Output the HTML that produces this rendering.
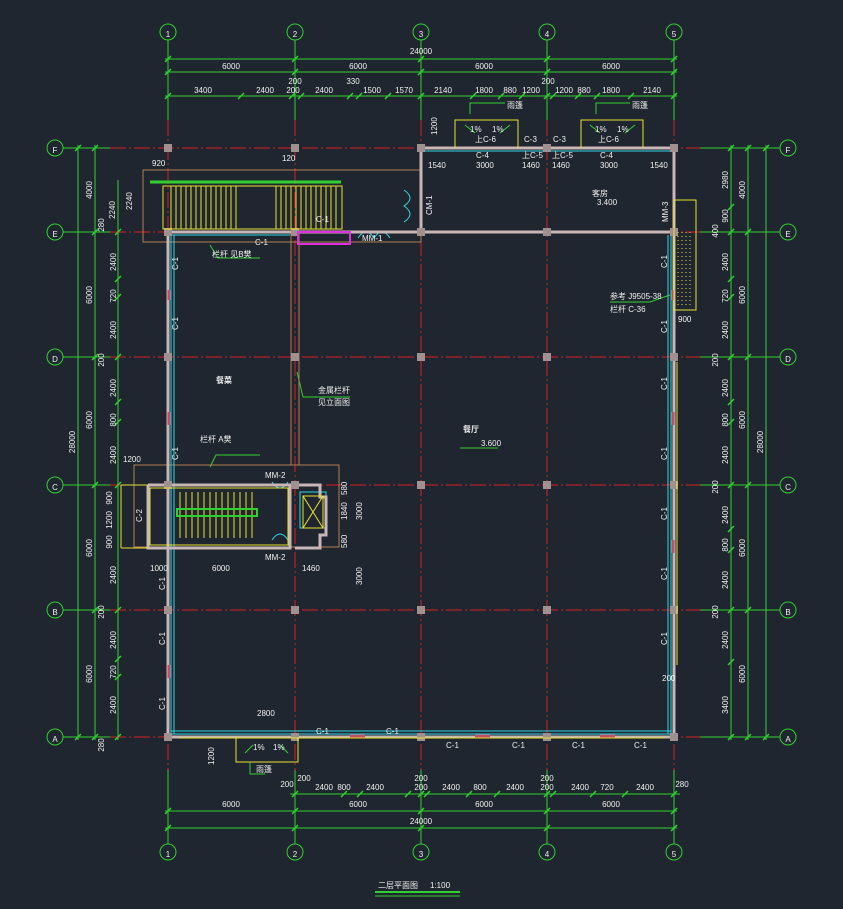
<!DOCTYPE html>
<html><head><meta charset="utf-8"><style>
html,body{margin:0;padding:0;background:#20262f;}
svg{display:block}
text{font-family:"Liberation Sans","Noto Sans CJK SC",sans-serif;fill:#f0f0f0;font-size:8px}
.g{stroke:#2fd02f;stroke-width:1;fill:none}
.r{stroke:#d42020;stroke-width:1;stroke-dasharray:16 3 2 3;fill:none}
.w{stroke:#c9b7b7;stroke-width:3;fill:none}
.c{stroke:#2fd8e8;stroke-width:1;fill:none}
.y{stroke:#e8e030;stroke-width:1;fill:none}
.o{stroke:#b08050;stroke-width:1;fill:none}
.gc{stroke:#2fd02f;fill:none;stroke-width:1}
.ct{font-family:"Liberation Serif",serif;font-size:14px;fill:#f4f4f4;text-anchor:middle}
.m{text-anchor:middle}
</style></head><body>
<svg width="843" height="909" viewBox="0 0 843 909" xmlns="http://www.w3.org/2000/svg">
<rect width="843" height="909" fill="#20262f"/>
<g class="r">
<line x1="168" y1="120" x2="168" y2="770"/><line x1="295" y1="120" x2="295" y2="770"/>
<line x1="421" y1="120" x2="421" y2="770"/><line x1="547" y1="120" x2="547" y2="770"/>
<line x1="674" y1="120" x2="674" y2="770"/>
<line x1="110" y1="148" x2="700" y2="148"/><line x1="110" y1="232" x2="700" y2="232"/>
<line x1="110" y1="357" x2="700" y2="357"/><line x1="110" y1="485" x2="700" y2="485"/>
<line x1="110" y1="610" x2="700" y2="610"/><line x1="110" y1="737" x2="700" y2="737"/>
</g>
<g class="g">
<line x1="168" y1="40" x2="168" y2="120"/><line x1="295" y1="40" x2="295" y2="120"/><line x1="421" y1="40" x2="421" y2="120"/><line x1="547" y1="40" x2="547" y2="120"/><line x1="674" y1="40" x2="674" y2="120"/>
<line x1="168" y1="770" x2="168" y2="844"/><line x1="295" y1="770" x2="295" y2="844"/><line x1="421" y1="770" x2="421" y2="844"/><line x1="547" y1="770" x2="547" y2="844"/><line x1="674" y1="770" x2="674" y2="844"/>
<line x1="63" y1="148" x2="110" y2="148"/><line x1="63" y1="232" x2="110" y2="232"/><line x1="63" y1="357" x2="110" y2="357"/><line x1="63" y1="485" x2="110" y2="485"/><line x1="63" y1="610" x2="110" y2="610"/><line x1="63" y1="737" x2="110" y2="737"/>
<line x1="700" y1="148" x2="780" y2="148"/><line x1="700" y1="232" x2="780" y2="232"/><line x1="700" y1="357" x2="780" y2="357"/><line x1="700" y1="485" x2="780" y2="485"/><line x1="700" y1="610" x2="780" y2="610"/><line x1="700" y1="737" x2="780" y2="737"/>
<line x1="165" y1="59" x2="677" y2="59"/><line x1="165" y1="72" x2="677" y2="72"/><line x1="165" y1="96" x2="677" y2="96"/>
<line x1="290" y1="794" x2="680" y2="794"/><line x1="165" y1="811" x2="677" y2="811"/><line x1="165" y1="828" x2="677" y2="828"/>
<line x1="78" y1="145" x2="78" y2="740"/><line x1="95" y1="145" x2="95" y2="740"/><line x1="118" y1="180" x2="118" y2="740"/>
<line x1="731" y1="145" x2="731" y2="740"/><line x1="748" y1="145" x2="748" y2="740"/><line x1="766" y1="145" x2="766" y2="740"/>
<!-- ticks -->
<path stroke-width="1.5" d="M165 62l6-6M292 62l6-6M418 62l6-6M544 62l6-6M671 62l6-6
M165 75l6-6M292 75l6-6M418 75l6-6M544 75l6-6M671 75l6-6
M165 99l6-6M238 99l6-6M289 99l6-6M298 99l6-6M347 99l6-6M356 99l6-6M385 99l6-6M418 99l6-6M470 99l6-6M498 99l6-6M519 99l6-6M544 99l6-6M550 99l6-6M575 99l6-6M594 99l6-6M628 99l6-6M671 99l6-6
M292 797l6-6M341 797l6-6M357 797l6-6M405 797l6-6M418 797l6-6M424 797l6-6M466 797l6-6M494 797l6-6M544 797l6-6M550 797l6-6M590 797l6-6M622 797l6-6M671 797l6-6
M165 814l6-6M292 814l6-6M418 814l6-6M544 814l6-6M671 814l6-6
M165 831l6-6M292 831l6-6M418 831l6-6M544 831l6-6M671 831l6-6
M75 151l6-6M75 740l6-6M92 151l6-6M92 235l6-6M92 360l6-6M92 488l6-6M92 613l6-6M92 740l6-6
M115 235l6-6M115 282l6-6M115 300l6-6M115 360l6-6M115 405l6-6M115 425l6-6M115 488l6-6M115 613l6-6M115 662l6-6M115 680l6-6M115 740l6-6
M728 151l6-6M728 210l6-6M728 235l6-6M728 282l6-6M728 300l6-6M728 360l6-6M728 405l6-6M728 425l6-6M728 488l6-6M728 532l6-6M728 553l6-6M728 613l6-6M728 665l6-6M728 740l6-6
M745 151l6-6M745 235l6-6M745 360l6-6M745 488l6-6M745 613l6-6M745 740l6-6M763 151l6-6M763 740l6-6"/>
<!-- leaders -->
<polyline points="210,245 218,258 260,258"/><polyline points="210,467 216,455 260,455"/>
<polyline points="297,372 303,397 350,397"/><polyline points="670,295 650,302 610,302"/>
<polyline points="470,114 470,103 505,103"/><polyline points="596,114 596,103 630,103"/><polyline points="250,762 250,774 265,774"/>
<path d="M465 125l10 8M510 125l-10 8M590 125l10 8M635 125l-10 8M245 753l8-8M288 753l-8-8"/>
</g>
<g class="gc">
<circle cx="168" cy="32" r="8"/><circle cx="295" cy="32" r="8"/><circle cx="421" cy="32" r="8"/><circle cx="547" cy="32" r="8"/><circle cx="674" cy="32" r="8"/>
<circle cx="168" cy="852" r="8"/><circle cx="295" cy="852" r="8"/><circle cx="421" cy="852" r="8"/><circle cx="547" cy="852" r="8"/><circle cx="674" cy="852" r="8"/>
<circle cx="55" cy="148" r="8"/><circle cx="55" cy="232" r="8"/><circle cx="55" cy="357" r="8"/><circle cx="55" cy="485" r="8"/><circle cx="55" cy="610" r="8"/><circle cx="55" cy="737" r="8"/>
<circle cx="788" cy="148" r="8"/><circle cx="788" cy="232" r="8"/><circle cx="788" cy="357" r="8"/><circle cx="788" cy="485" r="8"/><circle cx="788" cy="610" r="8"/><circle cx="788" cy="737" r="8"/>
</g>
<g class="ct">
<text x="168" y="37">1</text><text x="295" y="37">2</text><text x="421" y="37">3</text><text x="547" y="37">4</text><text x="674" y="37">5</text>
<text x="168" y="857">1</text><text x="295" y="857">2</text><text x="421" y="857">3</text><text x="547" y="857">4</text><text x="674" y="857">5</text>
<text x="55" y="153" font-size="12">F</text><text x="55" y="237" font-size="12">E</text><text x="55" y="362" font-size="12">D</text><text x="55" y="490" font-size="12">C</text><text x="55" y="615" font-size="12">B</text><text x="55" y="742" font-size="12">A</text>
<text x="788" y="153" font-size="12">F</text><text x="788" y="237" font-size="12">E</text><text x="788" y="362" font-size="12">D</text><text x="788" y="490" font-size="12">C</text><text x="788" y="615" font-size="12">B</text><text x="788" y="742" font-size="12">A</text>
</g>
<g class="m">
<text x="421" y="54">24000</text>
<text x="231" y="69">6000</text><text x="358" y="69">6000</text><text x="484" y="69">6000</text><text x="611" y="69">6000</text>
<text x="203" y="93">3400</text><text x="265" y="93">2400</text><text x="295" y="84">200</text><text x="293" y="93">200</text><text x="324" y="93">2400</text><text x="353" y="84">330</text><text x="372" y="93">1500</text><text x="404" y="93">1570</text>
<text x="443" y="93">2140</text><text x="484" y="93">1800</text><text x="510" y="93">880</text><text x="531" y="93">1200</text><text x="548" y="84">200</text><text x="564" y="93">1200</text><text x="584" y="93">880</text><text x="611" y="93">1800</text><text x="652" y="93">2140</text>
<text x="287" y="787">200</text><text x="304" y="781">200</text><text x="324" y="790">2400</text><text x="344" y="790">800</text><text x="375" y="790">2400</text><text x="421" y="781">200</text><text x="421" y="790">200</text><text x="451" y="790">2400</text><text x="480" y="790">800</text><text x="515" y="790">2400</text><text x="547" y="781">200</text><text x="547" y="790">200</text><text x="580" y="790">2400</text><text x="607" y="790">720</text><text x="645" y="790">2400</text><text x="682" y="787">280</text>
<text x="231" y="807">6000</text><text x="358" y="807">6000</text><text x="484" y="807">6000</text><text x="611" y="807">6000</text>
<text x="421" y="824">24000</text>
</g>
<g class="m">
<text transform="translate(92,190) rotate(-90)">4000</text><text transform="translate(92,295) rotate(-90)">6000</text><text transform="translate(92,420) rotate(-90)">6000</text><text transform="translate(92,548) rotate(-90)">6000</text><text transform="translate(92,674) rotate(-90)">6000</text>
<text transform="translate(75,442) rotate(-90)">28000</text>
<text transform="translate(115,210) rotate(-90)">2240</text>
<text transform="translate(116,262) rotate(-90)">2400</text><text transform="translate(116,296) rotate(-90)">720</text><text transform="translate(116,330) rotate(-90)">2400</text>
<text transform="translate(116,388) rotate(-90)">2400</text><text transform="translate(116,420) rotate(-90)">800</text><text transform="translate(116,455) rotate(-90)">2400</text>
<text transform="translate(116,575) rotate(-90)">2400</text><text transform="translate(116,640) rotate(-90)">2400</text><text transform="translate(116,672) rotate(-90)">720</text><text transform="translate(116,705) rotate(-90)">2400</text>
<text transform="translate(104,360) rotate(-90)">200</text><text transform="translate(104,612) rotate(-90)">200</text><text transform="translate(104,745) rotate(-90)">280</text><text transform="translate(104,225) rotate(-90)">280</text>
<text transform="translate(112,498) rotate(-90)">900</text><text transform="translate(112,520) rotate(-90)">1200</text><text transform="translate(112,542) rotate(-90)">900</text>
<text transform="translate(745,190) rotate(-90)">4000</text><text transform="translate(745,295) rotate(-90)">6000</text><text transform="translate(745,420) rotate(-90)">6000</text><text transform="translate(745,548) rotate(-90)">6000</text><text transform="translate(745,674) rotate(-90)">6000</text>
<text transform="translate(763,442) rotate(-90)">28000</text>
<text transform="translate(728,180) rotate(-90)">2980</text><text transform="translate(728,216) rotate(-90)">900</text><text transform="translate(718,231) rotate(-90)">400</text>
<text transform="translate(728,262) rotate(-90)">2400</text><text transform="translate(728,296) rotate(-90)">720</text><text transform="translate(728,330) rotate(-90)">2400</text>
<text transform="translate(728,388) rotate(-90)">2400</text><text transform="translate(728,420) rotate(-90)">800</text><text transform="translate(728,455) rotate(-90)">2400</text>
<text transform="translate(728,515) rotate(-90)">2400</text><text transform="translate(728,545) rotate(-90)">800</text><text transform="translate(728,580) rotate(-90)">2400</text>
<text transform="translate(728,640) rotate(-90)">2400</text><text transform="translate(728,705) rotate(-90)">3400</text>
<text transform="translate(718,360) rotate(-90)">200</text><text transform="translate(718,487) rotate(-90)">200</text><text transform="translate(718,612) rotate(-90)">200</text>
</g>
<g class="o">
<rect x="143" y="170" width="278" height="72"/>
<rect x="134" y="465" width="205" height="82"/>
<line x1="291" y1="232" x2="291" y2="465"/><line x1="299" y1="232" x2="299" y2="465"/>
</g>
<g class="c">
<line x1="171" y1="235" x2="171" y2="734"/><line x1="174" y1="235" x2="174" y2="734"/>
<line x1="671" y1="235" x2="671" y2="734"/><line x1="668" y1="235" x2="668" y2="734"/>
<line x1="171" y1="734" x2="671" y2="734"/><line x1="171" y1="731" x2="671" y2="731"/>
<line x1="424" y1="151" x2="671" y2="151"/>
<line x1="171" y1="235" x2="290" y2="235"/>
<path d="M358 238 q8-12 16 0 q8-12 16 0"/><path d="M404 190 q12 8 0 16 q12 8 0 16"/>
<rect x="300" y="492" width="26" height="36"/>
<path d="M272 482 q8 12 16 0"/><path d="M272 540 q8 -12 16 0"/>
</g>
<g class="w">
<polyline points="168,232 168,737 674,737 674,148 421,148 421,232 168,232"/>
<line x1="421" y1="232" x2="674" y2="232"/>
<polyline points="148,485 290,485 290,548 148,548 148,485"/>
<polyline points="295,485 320,485 320,497 326,497 326,535 320,535 320,548 295,548"/>
</g>
<g stroke="#c05060" stroke-width="3">
<line x1="169" y1="290" x2="169" y2="300"/><line x1="169" y1="412" x2="169" y2="425"/><line x1="169" y1="665" x2="169" y2="678"/>
<line x1="673" y1="290" x2="673" y2="300"/><line x1="673" y1="412" x2="673" y2="425"/><line x1="673" y1="540" x2="673" y2="553"/>
<line x1="350" y1="736" x2="365" y2="736"/><line x1="475" y1="736" x2="490" y2="736"/><line x1="600" y1="736" x2="615" y2="736"/>
</g>
<g fill="#a09090">
<rect x="164" y="144" width="8" height="8"/><rect x="291" y="144" width="8" height="8"/><rect x="417" y="144" width="8" height="8"/><rect x="543" y="144" width="8" height="8"/><rect x="670" y="144" width="8" height="8"/>
<rect x="164" y="228" width="8" height="8"/><rect x="291" y="228" width="8" height="8"/><rect x="417" y="228" width="8" height="8"/><rect x="543" y="228" width="8" height="8"/><rect x="670" y="228" width="8" height="8"/>
<rect x="164" y="353" width="8" height="8"/><rect x="291" y="353" width="8" height="8"/><rect x="417" y="353" width="8" height="8"/><rect x="543" y="353" width="8" height="8"/><rect x="670" y="353" width="8" height="8"/>
<rect x="164" y="481" width="8" height="8"/><rect x="291" y="481" width="8" height="8"/><rect x="417" y="481" width="8" height="8"/><rect x="543" y="481" width="8" height="8"/><rect x="670" y="481" width="8" height="8"/>
<rect x="164" y="606" width="8" height="8"/><rect x="291" y="606" width="8" height="8"/><rect x="417" y="606" width="8" height="8"/><rect x="543" y="606" width="8" height="8"/><rect x="670" y="606" width="8" height="8"/>
<rect x="164" y="733" width="8" height="8"/><rect x="291" y="733" width="8" height="8"/><rect x="417" y="733" width="8" height="8"/><rect x="543" y="733" width="8" height="8"/><rect x="670" y="733" width="8" height="8"/>
</g>
<g class="y">
<rect x="163" y="186" width="179" height="43"/>
<path d="M171 186v43M176 186v43M181 186v43M186 186v43M191 186v43M196 186v43M201 186v43M206 186v43M211 186v43M216 186v43M221 186v43M226 186v43M231 186v43M236 186v43M276 186v43M281 186v43M286 186v43M291 186v43M296 186v43M301 186v43M306 186v43M311 186v43M316 186v43M321 186v43M326 186v43M331 186v43M336 186v43"/>
<polyline points="455,148 455,120 518,120 518,148"/><polyline points="581,148 581,120 643,120 643,148"/>
<polyline points="236,737 236,762 298,762 298,737"/>
<polyline points="121,485 121,548"/><line x1="121" y1="485" x2="148" y2="485"/><line x1="121" y1="548" x2="148" y2="548"/>
<rect x="674" y="200" width="22" height="110"/>
<line x1="179" y1="738" x2="665" y2="738" />
<line x1="677" y1="362" x2="677" y2="665"/>
<rect x="150" y="488" width="138" height="57"/>
<path d="M180 492v46M186 492v46M192 492v46M198 492v46M204 492v46M210 492v46M216 492v46M222 492v46M228 492v46M234 492v46M240 492v46M246 492v46M252 492v46"/>
<rect x="303" y="496" width="20" height="32"/><line x1="303" y1="496" x2="323" y2="528"/><line x1="323" y1="496" x2="303" y2="528"/>
<path d="M678 232v75M682 232v75M686 232v75M690 232v75" stroke-dasharray="1 3"/>
</g>
<rect x="298" y="232" width="52" height="12" fill="none" stroke="#e030e0" stroke-width="2"/>
<line x1="150" y1="182" x2="341" y2="182" stroke="#2fd02f" stroke-width="3"/>
<rect x="177" y="509" width="80" height="7" fill="none" stroke="#2fd02f" stroke-width="2"/>
<g>
<text x="216" y="383" font-size="11" font-weight="bold">餐菜</text>
<text x="463" y="432" font-size="11" font-weight="bold">餐厅</text><text x="481" y="446" font-size="7">3.600</text>
<line x1="460" y1="448" x2="498" y2="448" stroke="#2fd02f"/>
<text x="592" y="196" font-size="9">客房</text><text x="597" y="205" font-size="7">3.400</text>
<text x="476" y="158">C-4</text><text x="476" y="168">3000</text><text x="522" y="158">上C-5</text><text x="522" y="168">1460</text><text x="552" y="158">上C-5</text><text x="552" y="168">1460</text><text x="600" y="158">C-4</text><text x="600" y="168">3000</text>
<text x="428" y="168">1540</text><text x="650" y="168">1540</text>
<text x="524" y="142">C-3</text><text x="553" y="142">C-3</text><text x="475" y="142">上C-6</text><text x="598" y="142">上C-6</text>
<text x="470" y="132" font-size="7">1%</text><text x="492" y="132" font-size="7">1%</text><text x="595" y="132" font-size="7">1%</text><text x="617" y="132" font-size="7">1%</text><text x="253" y="750" font-size="7">1%</text><text x="273" y="750" font-size="7">1%</text>
<text x="507" y="108">雨篷</text><text x="632" y="108">雨篷</text><text x="256" y="772">雨篷</text>
<text x="362" y="241">MM-1</text><text x="265" y="478">MM-2</text><text x="265" y="560">MM-2</text>
<text x="255" y="245">C-1</text><text x="316" y="222">C-1</text>
<text x="610" y="299" font-size="7">参考 J9505-38</text><text x="610" y="312" font-size="7">栏杆 C-36</text>
<text x="212" y="257" font-size="7">栏杆 见B樊</text><text x="200" y="442" font-size="7">栏杆 A樊</text>
<text x="318" y="393" font-size="7">金属栏杆</text><text x="318" y="405" font-size="7">见立面图</text>
<text x="257" y="716">2800</text><text x="212" y="571">6000</text><text x="302" y="571">1460</text><text x="150" y="571">1000</text>
<text x="123" y="462">1200</text><text x="152" y="166">920</text><text x="282" y="161">120</text><text x="678" y="322">900</text><text x="662" y="681">200</text>
<text x="316" y="734">C-1</text><text x="386" y="734">C-1</text><text x="446" y="748">C-1</text><text x="512" y="748">C-1</text><text x="572" y="748">C-1</text><text x="634" y="748">C-1</text>
<text transform="translate(178,270) rotate(-90)">C-1</text><text transform="translate(178,330) rotate(-90)">C-1</text><text transform="translate(178,460) rotate(-90)">C-1</text><text transform="translate(165,590) rotate(-90)">C-1</text><text transform="translate(165,645) rotate(-90)">C-1</text><text transform="translate(165,710) rotate(-90)">C-1</text>
<text transform="translate(667,268) rotate(-90)">C-1</text><text transform="translate(667,333) rotate(-90)">C-1</text><text transform="translate(667,390) rotate(-90)">C-1</text><text transform="translate(667,460) rotate(-90)">C-1</text><text transform="translate(667,520) rotate(-90)">C-1</text><text transform="translate(667,580) rotate(-90)">C-1</text><text transform="translate(667,645) rotate(-90)">C-1</text>
<text transform="translate(142,522) rotate(-90)">C-2</text><text transform="translate(432,215) rotate(-90)">CM-1</text><text transform="translate(668,222) rotate(-90)">MM-3</text>
<text transform="translate(347,520) rotate(-90)">1840</text><text transform="translate(347,495) rotate(-90)">580</text><text transform="translate(347,548) rotate(-90)">580</text><text transform="translate(362,520) rotate(-90)">3000</text><text transform="translate(362,585) rotate(-90)">3000</text>
<text transform="translate(132,210) rotate(-90)">2240</text><text transform="translate(214,765) rotate(-90)">1200</text><text transform="translate(437,135) rotate(-90)">1200</text>
<text x="378" y="888" font-size="9">二层平面图</text><text x="430" y="888" font-size="9">1:100</text>
<line x1="375" y1="892" x2="460" y2="892" stroke="#2fd02f" stroke-width="2"/><line x1="375" y1="896" x2="460" y2="896" stroke="#2fd02f"/>
</g>
</svg>
</body></html>
